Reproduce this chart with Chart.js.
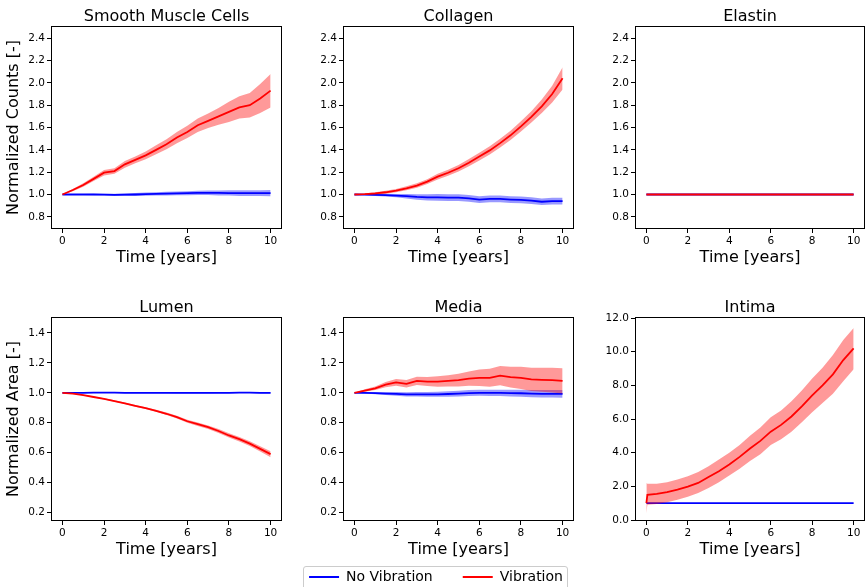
<!DOCTYPE html>
<html>
<head>
<meta charset="utf-8">
<script src="https://cdn.jsdelivr.net/npm/chart.js"></script>
<style>
  body { margin: 0; background: #fff; width: 865px; height: 587px; overflow: hidden; position: relative; }
  canvas { position: absolute; }
  #legendFrame { position: absolute; left: 303px; top: 566px; width: 265px; height: 30px;
                 border: 1px solid #ccc; border-radius: 3px; box-sizing: border-box; }
</style>
</head>
<body>
<div id="legendFrame"></div>
<canvas id="smc"      width="282" height="270" style="left:0px;top:0px"></canvas>
<canvas id="collagen" width="282" height="270" style="left:292px;top:0px"></canvas>
<canvas id="elastin"  width="281" height="270" style="left:584px;top:0px"></canvas>
<canvas id="lumen"    width="282" height="271" style="left:0px;top:291px"></canvas>
<canvas id="media"    width="282" height="271" style="left:292px;top:291px"></canvas>
<canvas id="intima"   width="281" height="271" style="left:584px;top:291px"></canvas>
<canvas id="legend"   width="340" height="200" style="left:266px;top:540px"></canvas>
<script>
// time axis (years), sampled every half year
const years = [0,0.5,1,1.5,2,2.5,3,3.5,4,4.5,5,5.5,6,6.5,7,7.5,8,8.5,9,9.5,10];
const yearsIntima = [0,0.05,0.5,1,1.5,2,2.5,3,3.5,4,4.5,5,5.5,6,6.5,7,7.5,8,8.5,9,9.5,10];

const xTicks = [0,2,4,6,8,10];
const yTicksCounts = [0.8,1.0,1.2,1.4,1.6,1.8,2.0,2.2,2.4];
const yTicksArea = [0.2,0.4,0.6,0.8,1.0,1.2,1.4];
const yTicksIntima = [0,2,4,6,8,10,12];

// Smooth muscle cells
const smcNoVib   = [1.00,1.00,1.00,1.00,0.998,0.997,0.998,1.00,1.003,1.005,1.008,1.01,1.012,1.015,1.015,1.014,1.013,1.012,1.012,1.013,1.012];
const smcNoVibHi = [1.00,1.003,1.005,1.007,1.006,1.007,1.01,1.013,1.018,1.02,1.024,1.027,1.03,1.033,1.035,1.036,1.037,1.037,1.038,1.039,1.04];
const smcNoVibLo = [1.00,0.997,0.995,0.993,0.99,0.987,0.986,0.987,0.988,0.99,0.992,0.993,0.994,0.996,0.995,0.992,0.99,0.987,0.986,0.987,0.985];
const smcVib     = [1.00,1.04,1.085,1.14,1.195,1.21,1.27,1.31,1.35,1.40,1.45,1.51,1.56,1.62,1.66,1.70,1.74,1.78,1.80,1.86,1.93];
const smcVibHi   = [1.00,1.05,1.10,1.16,1.22,1.235,1.30,1.34,1.385,1.44,1.495,1.56,1.615,1.68,1.725,1.775,1.83,1.88,1.91,1.99,2.08];
const smcVibLo   = [1.00,1.03,1.07,1.12,1.17,1.185,1.24,1.28,1.315,1.36,1.405,1.46,1.505,1.56,1.595,1.625,1.65,1.68,1.69,1.73,1.78];

// Collagen
const colNoVib   = [1.00,0.998,0.996,0.995,0.99,0.985,0.978,0.975,0.975,0.972,0.972,0.965,0.955,0.96,0.96,0.955,0.952,0.945,0.935,0.94,0.94];
const colNoVibHi = [1.00,1.003,1.006,1.007,1.005,1.005,1.003,1.003,1.005,1.002,1.002,0.995,0.985,0.99,0.99,0.985,0.982,0.975,0.965,0.97,0.97];
const colNoVibLo = [1.00,0.993,0.986,0.983,0.975,0.965,0.953,0.947,0.945,0.942,0.942,0.935,0.925,0.93,0.93,0.925,0.922,0.915,0.905,0.91,0.91];
const colVib     = [1.00,1.003,1.01,1.02,1.035,1.055,1.08,1.115,1.16,1.195,1.235,1.285,1.34,1.395,1.46,1.53,1.61,1.695,1.79,1.90,2.04];
const colVibHi   = [1.00,1.008,1.02,1.033,1.05,1.073,1.10,1.137,1.185,1.222,1.265,1.317,1.375,1.432,1.50,1.572,1.655,1.745,1.85,1.975,2.14];
const colVibLo   = [1.00,0.998,1.00,1.007,1.02,1.037,1.06,1.093,1.135,1.168,1.205,1.253,1.305,1.358,1.42,1.488,1.565,1.645,1.73,1.825,1.94];

// Elastin (flat)
const elaNoVib = [1,1,1,1,1,1,1,1,1,1,1,1,1,1,1,1,1,1,1,1,1];
const elaVib   = [1,1,1,1,1,1,1,1,1,1,1,1,1,1,1,1,1,1,1,1,1];

// Lumen
const lumNoVib   = [1.0,1.0,1.0,1.001,1.001,1.001,1.0,1.0,1.0,1.0,1.0,0.999,0.999,0.999,0.999,1.0,1.0,1.001,1.001,1.0,1.0];
const lumNoVibHi = [1.0,1.001,1.002,1.003,1.004,1.004,1.003,1.003,1.003,1.003,1.003,1.002,1.002,1.002,1.002,1.003,1.003,1.004,1.004,1.004,1.004];
const lumNoVibLo = [1.0,0.999,0.998,0.999,0.998,0.998,0.997,0.997,0.997,0.997,0.997,0.996,0.996,0.996,0.996,0.997,0.997,0.998,0.998,0.996,0.996];
const lumVib     = [1.00,0.995,0.985,0.972,0.96,0.945,0.93,0.913,0.897,0.88,0.86,0.838,0.81,0.79,0.77,0.745,0.715,0.69,0.66,0.625,0.59];
const lumVibHi   = [1.00,0.997,0.988,0.976,0.964,0.95,0.935,0.919,0.903,0.887,0.868,0.847,0.82,0.801,0.782,0.758,0.729,0.705,0.676,0.643,0.61];
const lumVibLo   = [1.00,0.993,0.982,0.968,0.956,0.94,0.925,0.907,0.891,0.873,0.852,0.829,0.80,0.779,0.758,0.732,0.701,0.675,0.644,0.607,0.57];

// Media
const medNoVib   = [1.00,1.0,0.998,0.995,0.993,0.99,0.99,0.99,0.99,0.992,0.995,0.998,1.0,1.0,1.0,0.998,0.997,0.995,0.993,0.993,0.993];
const medNoVibHi = [1.00,1.005,1.006,1.005,1.005,1.004,1.005,1.006,1.007,1.01,1.014,1.018,1.02,1.021,1.021,1.02,1.02,1.019,1.018,1.018,1.019];
const medNoVibLo = [1.00,0.995,0.99,0.985,0.981,0.976,0.975,0.974,0.973,0.974,0.976,0.978,0.98,0.979,0.979,0.976,0.974,0.971,0.968,0.968,0.967];
const medVib     = [1.00,1.015,1.03,1.055,1.07,1.06,1.08,1.075,1.075,1.08,1.085,1.095,1.10,1.10,1.115,1.105,1.10,1.09,1.087,1.085,1.08];
const medVibHi   = [1.00,1.023,1.042,1.073,1.092,1.085,1.108,1.105,1.11,1.118,1.127,1.143,1.155,1.16,1.18,1.175,1.175,1.168,1.167,1.168,1.165];
const medVibLo   = [1.00,1.007,1.018,1.037,1.048,1.035,1.052,1.045,1.04,1.042,1.043,1.047,1.045,1.04,1.05,1.035,1.025,1.012,1.007,1.002,0.995];

// Intima
const intNoVib = [1,1,1,1,1,1,1,1,1,1,1,1,1,1,1,1,1,1,1,1,1,1];
const intVib   = [1.0,1.5,1.55,1.65,1.8,1.98,2.2,2.55,2.9,3.3,3.75,4.25,4.7,5.25,5.65,6.15,6.75,7.4,8.0,8.65,9.5,10.2];
const intVibHi = [2.2,2.15,2.15,2.25,2.4,2.6,2.85,3.2,3.6,4.0,4.45,5.0,5.5,6.1,6.5,7.05,7.7,8.4,9.05,9.8,10.7,11.4];
const intVibLo = [0.4,0.9,0.95,1.05,1.2,1.38,1.6,1.9,2.25,2.65,3.05,3.5,3.9,4.45,4.8,5.25,5.8,6.4,6.95,7.5,8.25,8.95];

Chart.defaults.font.family = "'DejaVu Sans', sans-serif";
Chart.defaults.color = '#000';

const BLUE = '#0000ff', RED = '#ff0000';
const BLUE_BAND = 'rgba(0,0,255,0.4)', RED_BAND = 'rgba(255,0,0,0.4)';

function pts(xs, ys) {
  return ys.map((y, i) => ({x: xs[i], y: y}));
}

// mean line + shaded band (hi/lo); order decides what is drawn on top
function series(xs, mean, hi, lo, color, band, order) {
  return [
    {data: pts(xs, hi), borderWidth: 0, pointRadius: 0, fill: false, order: order + 1},
    {data: pts(xs, lo), borderWidth: 0, pointRadius: 0, backgroundColor: band, fill: '-1', order: order + 1},
    {data: pts(xs, mean), borderColor: color, borderWidth: 1.8, pointRadius: 0, fill: false, order: order}
  ];
}

// axes box + title centred over the plot area, like matplotlib
const frame = {
  id: 'frame',
  afterDraw(chart, args, opts) {
    const a = chart.chartArea, c = chart.ctx;
    c.save();
    c.strokeStyle = '#000';
    c.lineWidth = 1;
    c.strokeRect(Math.round(a.left) - 0.5, Math.round(a.top) - 0.5,
                 Math.round(a.right - a.left) + 1, Math.round(a.bottom - a.top) + 1);
    c.fillStyle = '#000';
    c.font = "16px 'DejaVu Sans'";
    c.textAlign = 'center';
    c.textBaseline = 'alphabetic';
    c.fillText(opts.text, (a.left + a.right) / 2, a.top - 6);
    c.restore();
  }
};

function panel(id, title, datasets, yMin, yMax, yTicks, yTitle) {
  new Chart(document.getElementById(id), {
    type: 'line',
    data: {datasets: datasets},
    plugins: [frame],
    options: {
      responsive: false,
      animation: false,
      events: [],
      layout: {padding: {top: 27, right: 1, left: 0, bottom: 0}},
      plugins: {legend: {display: false}, tooltip: {enabled: false}, frame: {text: title}},
      scales: {
        x: {
          type: 'linear', min: -0.5, max: 10.5,
          afterBuildTicks: s => { s.ticks = xTicks.map(v => ({value: v})); },
          afterFit: s => { s.height = 42; },
          grid: {display: true, drawOnChartArea: false, drawTicks: true, tickLength: 5, color: '#000'},
          border: {display: false},
          ticks: {font: {size: 10.5}, color: '#000', padding: 2, maxRotation: 0, autoSkip: false,
                  callback: v => String(v)},
          title: {display: true, text: 'Time [years]', font: {size: 16}, color: '#000',
                  padding: {top: 0, bottom: 3}}
        },
        y: {
          type: 'linear', min: yMin, max: yMax,
          afterBuildTicks: s => { s.ticks = yTicks.map(v => ({value: v})); },
          afterFit: s => { s.width = 52; },
          grid: {display: true, drawOnChartArea: false, drawTicks: true, tickLength: 5, color: '#000'},
          border: {display: false},
          ticks: {font: {size: 10.5}, color: '#000', padding: 2, autoSkip: false,
                  callback: v => v.toFixed(1)},
          title: {display: !!yTitle, text: yTitle || '', font: {size: 16}, color: '#000',
                  padding: {top: 4, bottom: 0}}
        }
      }
    }
  });
}

panel('smc', 'Smooth Muscle Cells',
  series(years, smcNoVib, smcNoVibHi, smcNoVibLo, BLUE, BLUE_BAND, 3)
    .concat(series(years, smcVib, smcVibHi, smcVibLo, RED, RED_BAND, 1)),
  0.7, 2.5, yTicksCounts, 'Normalized Counts [-]');

panel('collagen', 'Collagen',
  series(years, colNoVib, colNoVibHi, colNoVibLo, BLUE, BLUE_BAND, 3)
    .concat(series(years, colVib, colVibHi, colVibLo, RED, RED_BAND, 1)),
  0.7, 2.5, yTicksCounts, null);

panel('elastin', 'Elastin',
  series(years, elaNoVib, elaNoVib, elaNoVib, BLUE, BLUE_BAND, 3)
    .concat(series(years, elaVib, elaVib, elaVib, RED, RED_BAND, 1)),
  0.7, 2.5, yTicksCounts, null);

panel('lumen', 'Lumen',
  series(years, lumNoVib, lumNoVibHi, lumNoVibLo, BLUE, BLUE_BAND, 3)
    .concat(series(years, lumVib, lumVibHi, lumVibLo, RED, RED_BAND, 1)),
  0.15, 1.5, yTicksArea, 'Normalized Area [-]');

panel('media', 'Media',
  series(years, medNoVib, medNoVibHi, medNoVibLo, BLUE, BLUE_BAND, 3)
    .concat(series(years, medVib, medVibHi, medVibLo, RED, RED_BAND, 1)),
  0.15, 1.5, yTicksArea, null);

panel('intima', 'Intima',
  series(yearsIntima, intNoVib, intNoVib, intNoVib, BLUE, BLUE_BAND, 3)
    .concat(series(yearsIntima, intVib, intVibHi, intVibLo, RED, RED_BAND, 1)),
  0, 12, yTicksIntima, null);

// shared legend below the grid
new Chart(document.getElementById('legend'), {
  type: 'line',
  data: {
    datasets: [
      {label: 'No Vibration', data: [], backgroundColor: BLUE, borderColor: BLUE, borderWidth: 0},
      {label: 'Vibration', data: [], backgroundColor: RED, borderColor: RED, borderWidth: 0}
    ]
  },
  options: {
    responsive: false,
    animation: false,
    events: [],
    scales: {x: {display: false}, y: {display: false}},
    plugins: {
      tooltip: {enabled: false},
      legend: {display: true, position: 'top', maxHeight: 120,
               labels: {boxWidth: 30, boxHeight: 2, padding: 30, color: '#000', font: {size: 14}}}
    }
  }
});
</script>
</body>
</html>
